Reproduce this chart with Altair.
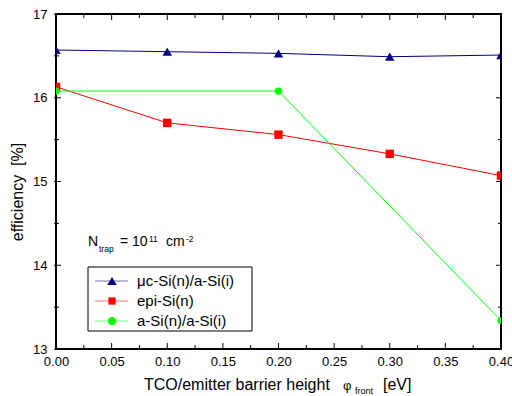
import altair as alt
import pandas as pd

FONT = "Liberation Sans"
W, H = 445, 335

# ---- data ----
series = ["μc-Si(n)/a-Si(i)", "epi-Si(n)", "a-Si(n)/a-Si(i)"]
x_uc = [0.0, 0.1, 0.2, 0.3, 0.4]
eff_uc = [16.57, 16.55, 16.53, 16.49, 16.51]
x_epi = [0.0, 0.1, 0.2, 0.3, 0.4]
eff_epi = [16.13, 15.70, 15.56, 15.33, 15.07]
x_a = [0.0, 0.2, 0.4]
eff_a = [16.08, 16.08, 13.34]

x_major = [0.0, 0.05, 0.10, 0.15, 0.20, 0.25, 0.30, 0.35, 0.40]
x_minor = [0.025, 0.075, 0.125, 0.175, 0.225, 0.275, 0.325, 0.375]
y_major = [13, 14, 15, 16, 17]
y_minor = [13.5, 14.5, 15.5, 16.5]

colors = ["#000080", "#ff0000", "#00ff00"]
shapes = ["triangle-up", "square", "circle"]
sizes = [90, 52, 64]

df = pd.concat([
    pd.DataFrame({"x": x_uc, "eff": eff_uc, "series": series[0]}),
    pd.DataFrame({"x": x_epi, "eff": eff_epi, "series": series[1]}),
    pd.DataFrame({"x": x_a, "eff": eff_a, "series": series[2]}),
], ignore_index=True)

xscale = alt.Scale(domain=[0, 0.4], nice=False, zero=False)
yscale = alt.Scale(domain=[13, 17], nice=False, zero=False)
cscale = alt.Scale(domain=series, range=colors)

xaxis = alt.Axis(values=x_major, format=".2f", title=None, grid=False, ticks=False,
                 tickSize=0, domain=False, labelFont=FONT, labelFontSize=13,
                 labelColor="black", labelPadding=16, labelBaseline="alphabetic",
                 labelFlush=False, labelOverlap=False, labelBound=False)
yaxis = alt.Axis(values=y_major, format="d", title=None, grid=False, ticks=False,
                 tickSize=0, domain=False, labelFont=FONT, labelFontSize=13,
                 labelColor="black", labelPadding=9, labelBaseline="middle",
                 labelFlush=False, labelOverlap=False)


def X(field="x"):
    return alt.X(f"{field}:Q", scale=xscale, axis=xaxis)


def Y(field="eff"):
    return alt.Y(f"{field}:Q", scale=yscale, axis=yaxis)


lines = alt.Chart(df).mark_line(strokeWidth=1, clip=True).encode(
    x=X(), y=Y(),
    color=alt.Color("series:N", scale=cscale, legend=None),
)

points = alt.Chart(df).mark_point(filled=True, opacity=1, clip=True).encode(
    x=X(), y=Y(),
    color=alt.Color("series:N", scale=cscale, legend=None),
    shape=alt.Shape("series:N", scale=alt.Scale(domain=series, range=shapes), legend=None),
    size=alt.Size("series:N", scale=alt.Scale(domain=series, range=sizes), legend=None),
)

layers = [lines, points]


# inward ticks on all four sides
def xticks(vals, length):
    d = pd.DataFrame({"x": vals})
    bot = alt.Chart(d).mark_rule(color="black", strokeWidth=1).encode(
        x=X(), y=alt.value(H), y2=alt.value(H - length))
    top = alt.Chart(d).mark_rule(color="black", strokeWidth=1).encode(
        x=X(), y=alt.value(0), y2=alt.value(length))
    return [bot, top]


def yticks(vals, length):
    d = pd.DataFrame({"eff": vals})
    left = alt.Chart(d).mark_rule(color="black", strokeWidth=1).encode(
        y=Y(), x=alt.value(-2), x2=alt.value(length))
    right = alt.Chart(d).mark_rule(color="black", strokeWidth=1).encode(
        y=Y(), x=alt.value(W), x2=alt.value(W - length))
    return [left, right]


layers += xticks(x_major, 6) + xticks(x_minor, 4) + yticks(y_major, 5) + yticks(y_minor, 3)


def txt(s, x, y, size, angle=0, align="left", baseline="alphabetic"):
    return alt.Chart(pd.DataFrame({"t": [s]})).mark_text(
        align=align, baseline=baseline, fontSize=size, font=FONT, color="black", angle=angle
    ).encode(x=alt.value(x), y=alt.value(y), text="t:N")


# axis titles
layers.append(txt("efficiency\u00a0\u00a0[%]", -38, 178, 16, angle=270, align="center", baseline="middle"))
layers.append(txt("TCO/emitter barrier height", 88, 376, 16))
layers.append(txt("φ", 287, 376, 13))
layers.append(txt("front", 299, 380, 9))
layers.append(txt("[eV]", 327, 376, 16))

# annotation N_trap = 10^11 cm^-2
layers.append(txt("N", 32, 231.7, 14))
layers.append(txt("trap", 43, 237.5, 8.5))
layers.append(txt("= 10", 64, 231.7, 14))
layers.append(txt("11", 93, 227.5, 8.5))
layers.append(txt("cm", 110, 231.7, 14))
layers.append(txt("-2", 130, 227.5, 8.5))

# legend box
layers.append(alt.Chart(pd.DataFrame({"a": [0]})).mark_rect(
    fill="white", stroke="black", strokeWidth=1).encode(
    x=alt.value(32), x2=alt.value(196), y=alt.value(253), y2=alt.value(317)))

rows = [267, 287, 307]
for name, col, shp, sz, ry in zip(series, colors, shapes, sizes, rows):
    d = pd.DataFrame({"series": [name]})
    layers.append(alt.Chart(d).mark_rule(color=col, strokeWidth=1, opacity=0.55).encode(
        x=alt.value(39), x2=alt.value(72), y=alt.value(ry)))
    layers.append(alt.Chart(d).mark_point(filled=True, opacity=1, color=col, shape=shp, size=sz).encode(
        x=alt.value(56), y=alt.value(ry)))
    layers.append(alt.Chart(d).mark_text(align="left", baseline="middle", fontSize=15,
                                         font=FONT, color="black").encode(
        x=alt.value(81), y=alt.value(ry), text="series:N"))

chart = alt.layer(*layers).properties(
    width=W, height=H,
    autosize=alt.AutoSizeParams(type="none"),
    padding={"left": 56, "top": 14, "right": 11, "bottom": 47},
    background="white",
).configure_view(stroke="black", strokeWidth=2)

chart.save("out.html", embed_options={"renderer": "svg", "actions": False})
